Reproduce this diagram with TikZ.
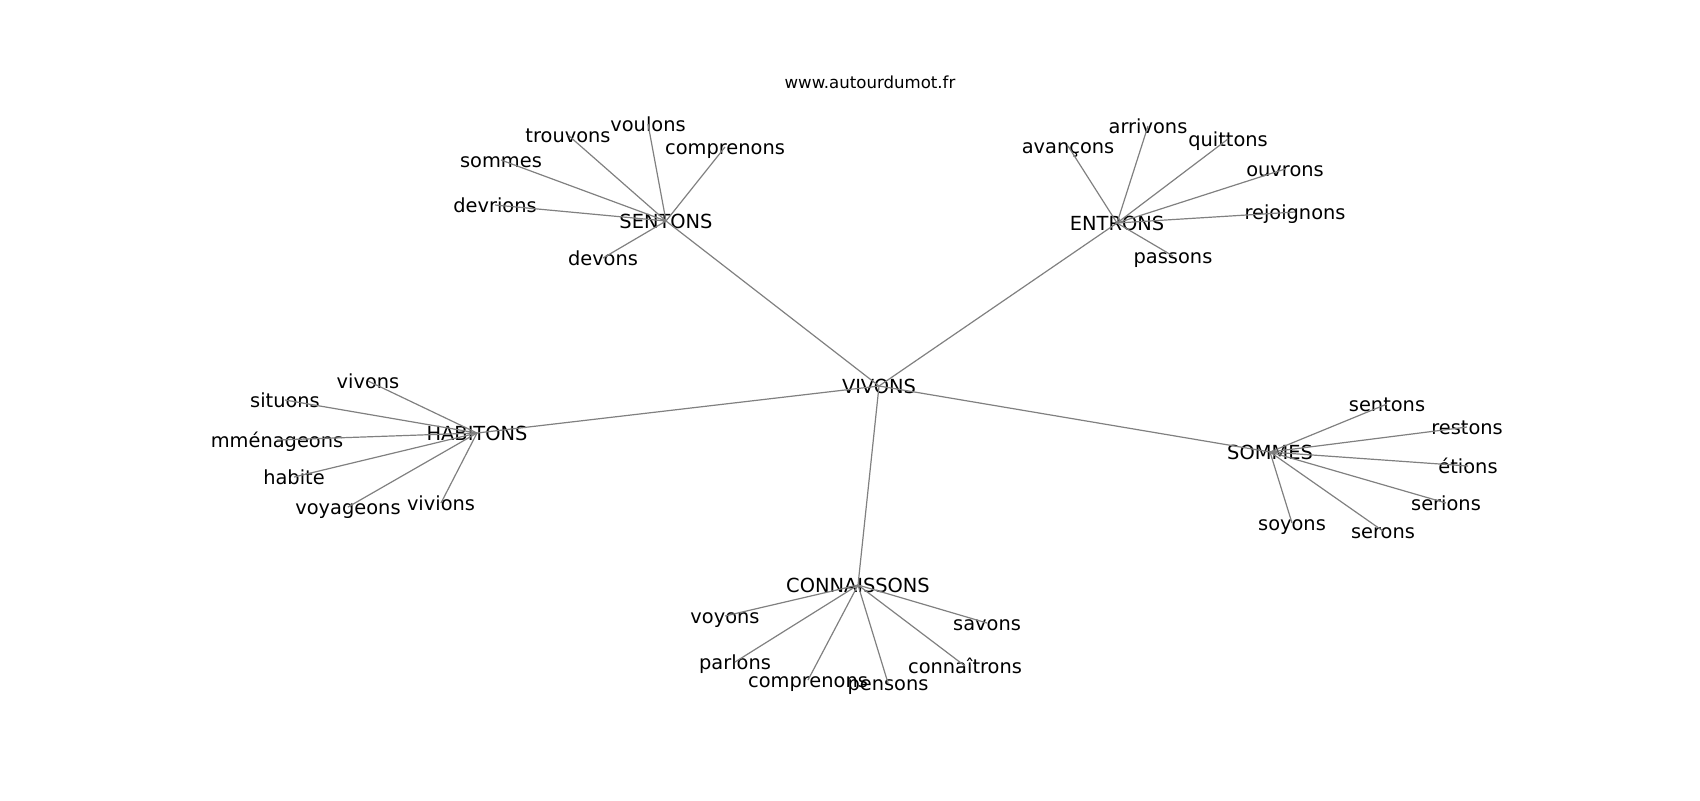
\documentclass[tikz,border=0pt]{standalone}
\usepackage{fontspec}
\setmainfont{DejaVu Sans}
\usepackage{tikz}
\usetikzlibrary{calc}
\tikzset{
   word/.style={inner sep=0pt, text height=0.75em, text depth=0pt,
                font=\fontsize{9.7}{11}\selectfont},
   hub/.style={word},
   stamp/.style={inner sep=0pt, font=\fontsize{8.3}{10}\selectfont},
   link/.style={draw=black!50, line width=0.6pt}
}
\begin{document}
\begin{tikzpicture}[x=0.5pt,y=-0.5pt]
  \useasboundingbox (0,0) rectangle (1700,800);
  \node[stamp] (site) at (870,82) {www.autourdumot.fr};
  % hubs
  \node[hub] (vi) at (879,386) {VIVONS};
  \node[hub] (se) at (666,221) {SENTONS};
  \node[hub] (en) at (1117,223) {ENTRONS};
  \node[hub] (ha) at (477,433) {HABITONS};
  \node[hub] (so) at (1270,452) {SOMMES};
  \node[hub] (co) at (858,585) {CONNAISSONS};
  % words round SENTONS
  \node[word] (se-1) at (648,124) {voulons};
  \node[word] (se-2) at (568,135) {trouvons};
  \node[word] (se-3) at (501,160) {sommes};
  \node[word] (se-4) at (495,205) {devrions};
  \node[word] (se-5) at (725,147) {comprenons};
  \node[word] (se-6) at (603,258) {devons};
  % words round ENTRONS
  \node[word] (en-1) at (1068,146) {avançons};
  \node[word] (en-2) at (1148,126) {arrivons};
  \node[word] (en-3) at (1228,139) {quittons};
  \node[word] (en-4) at (1285,169) {ouvrons};
  \node[word] (en-5) at (1295,212) {rejoignons};
  \node[word] (en-6) at (1173,256) {passons};
  % words round HABITONS
  \node[word] (ha-1) at (368,381) {vivons};
  \node[word] (ha-2) at (285,400) {situons};
  \node[word] (ha-3) at (277,440) {mménageons};
  \node[word] (ha-4) at (294,477) {habite};
  \node[word] (ha-5) at (348,507) {voyageons};
  \node[word] (ha-6) at (441,503) {vivions};
  % words round SOMMES
  \node[word] (so-1) at (1387,404) {sentons};
  \node[word] (so-2) at (1467,427) {restons};
  \node[word] (so-3) at (1468,466) {étions};
  \node[word] (so-4) at (1446,503) {serions};
  \node[word] (so-5) at (1383,531) {serons};
  \node[word] (so-6) at (1292,523) {soyons};
  % words round CONNAISSONS
  \node[word] (co-1) at (725,616) {voyons};
  \node[word] (co-2) at (987,623) {savons};
  \node[word] (co-3) at (735,662) {parlons};
  \node[word] (co-4) at (808,680) {comprenons};
  \node[word] (co-5) at (888,683) {pensons};
  \node[word] (co-6) at (965,666) {connaîtrons};
  \path[link]
    (vi.center) edge (se.center) edge (en.center) edge (ha.center)
                edge (so.center) edge (co.center)
    (se.center) edge (se-1.center) edge (se-2.center) edge (se-3.center)
                edge (se-4.center) edge (se-5.center) edge (se-6.center)
    (en.center) edge (en-1.center) edge (en-2.center) edge (en-3.center)
                edge (en-4.center) edge (en-5.center) edge (en-6.center)
    (ha.center) edge (ha-1.center) edge (ha-2.center) edge (ha-3.center)
                edge (ha-4.center) edge (ha-5.center) edge (ha-6.center)
    (so.center) edge (so-1.center) edge (so-2.center) edge (so-3.center)
                edge (so-4.center) edge (so-5.center) edge (so-6.center)
    (co.center) edge (co-1.center) edge (co-2.center) edge (co-3.center)
                edge (co-4.center) edge (co-5.center) edge (co-6.center)
;
\end{tikzpicture}
\end{document}
